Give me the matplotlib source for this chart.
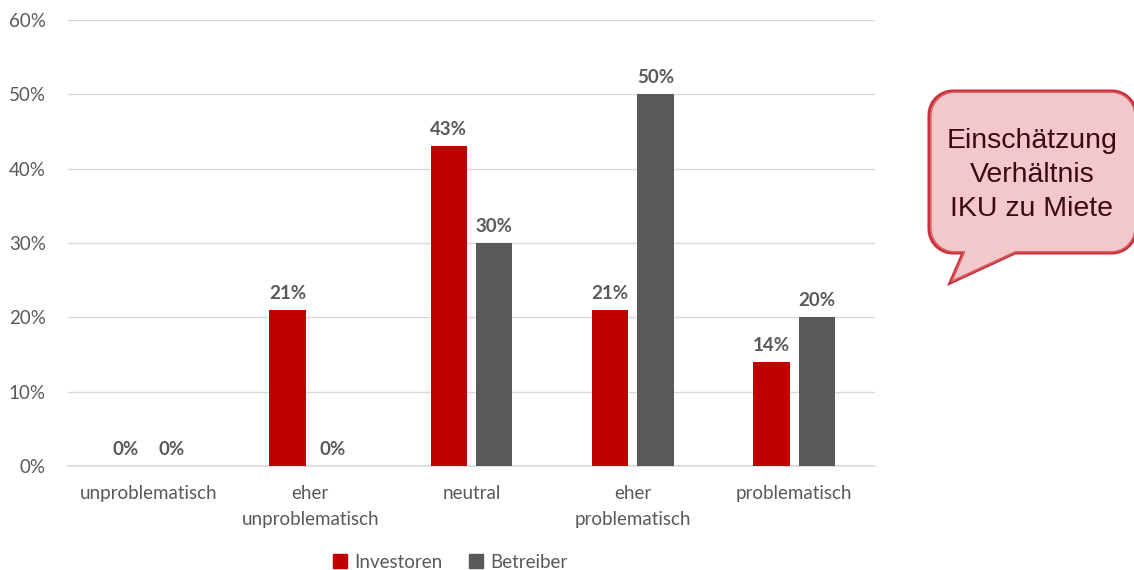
import numpy as np
import matplotlib
matplotlib.use("Agg")
import matplotlib.pyplot as plt
from matplotlib.patches import PathPatch, Patch
from matplotlib.path import Path
from matplotlib.transforms import Affine2D

categories = ["unproblematisch", "eher\nunproblematisch", "neutral",
              "eher\nproblematisch", "problematisch"]
investoren = [0, 21, 43, 21, 14]
betreiber = [0, 0, 30, 50, 20]
series_names = ["Investoren", "Betreiber"]
bubble_text = "Einschätzung\nVerhältnis\nIKU zu Miete"

red = "#C00000"
grey = "#595959"
txt = "#595959"

plt.rcParams["font.family"] = ["Lato", "DejaVu Sans"]

W, H = 1134, 570
fig = plt.figure(figsize=(W / 100, H / 100), dpi=100)
ax = fig.add_axes([68 / W, 1 - 466 / H, (875 - 68) / W, (466 - 20) / H])

x = np.arange(len(categories))
bw = 0.225
off = 0.141
b1 = ax.bar(x - off, investoren, bw, color=red, label=series_names[0], zorder=3)
b2 = ax.bar(x + off, betreiber, bw, color=grey, label=series_names[1], zorder=3)

for bars, vals in ((b1, investoren), (b2, betreiber)):
    for r, v in zip(bars, vals):
        ax.annotate(f"{v}%", (r.get_x() + r.get_width() / 2, v),
                    xytext=(0, 6), textcoords="offset points",
                    ha="center", va="bottom", fontsize=13.5,
                    fontweight="bold", color=txt)

ax.set_xlim(-0.5, len(categories) - 0.5)
ax.set_ylim(0, 60)
ax.set_yticks(range(0, 61, 10))
ax.set_yticklabels([f"{v}%" for v in range(0, 61, 10)])
ax.set_xticks(x)
ax.set_xticklabels(categories, linespacing=1.6)
ax.tick_params(axis="both", length=0, labelsize=13.5, labelcolor=txt)
ax.tick_params(axis="y", pad=16)
ax.tick_params(axis="x", pad=14)
ax.yaxis.grid(True, color="#D9D9D9", linewidth=1, zorder=0)
for s in ("top", "right", "left"):
    ax.spines[s].set_visible(False)
ax.spines["bottom"].set_color("#D9D9D9")
ax.spines["bottom"].set_linewidth(1.2)

handles = [Patch(color=red), Patch(color=grey)]
fig.legend(handles, series_names, loc="center", bbox_to_anchor=(450 / W, 1 - 562 / H),
           ncol=2, frameon=False, fontsize=13.5, labelcolor=txt,
           handlelength=0.75, handleheight=0.75, handletextpad=0.4, columnspacing=1.4)

# speech bubble in pixel coordinates (origin top-left)
pix = Affine2D().scale(1 / W, -1 / H).translate(0, 1) + fig.transFigure
L, T, R, B, rad = 929, 91, 1136, 253, 24


def arc(cx, cy, a0, a1, n=12):
    t = np.radians(np.linspace(a0, a1, n))
    return list(zip(cx + rad * np.cos(t), cy + rad * np.sin(t)))


pts = []
pts += arc(L + rad, T + rad, 180, 270)
pts += arc(R - rad, T + rad, 270, 360)
pts += arc(R - rad, B - rad, 0, 90)
pts += [(1015, B), (950, 283), (963, B)]
pts += arc(L + rad, B - rad, 90, 180)
pts.append(pts[0])
path = Path(pts)
fig.patches.append(PathPatch(path, transform=pix, facecolor="#F2C8CA",
                             edgecolor="#C8323A", linewidth=2.2))
inner = Affine2D().translate(-L, -(T + B) / 2).scale(0.985).translate(L + 2, (T + B) / 2) + pix
fig.patches.append(PathPatch(path, transform=inner, facecolor="none",
                             edgecolor="#D8646A", linewidth=1.0))
fig.text(1032 / W, 1 - 175 / H, bubble_text, ha="center", va="center",
         fontsize=20.5, color="#3A0A0E", linespacing=1.42,
         family=["Liberation Sans", "DejaVu Sans"])

fig.savefig("out.png", dpi=100)
